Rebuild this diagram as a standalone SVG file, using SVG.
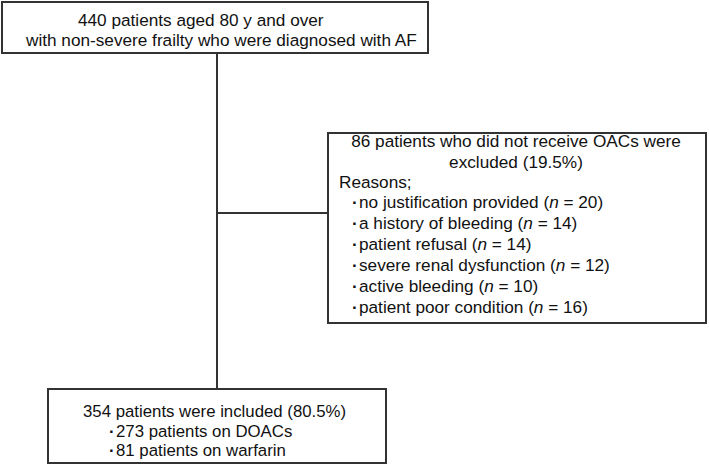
<svg xmlns="http://www.w3.org/2000/svg" width="709" height="465" viewBox="0 0 709 465">
<style>
.box{fill:#fff;stroke:#333;stroke-width:2}
.ln{stroke:#333;stroke-width:2;fill:none}
text{font-family:"Liberation Sans",Arial,sans-serif;font-size:17.2px;fill:#111}
.s{font-size:16.8px}
.i{font-style:italic}
.b{font-weight:bold}
</style>
<rect width="709" height="465" fill="#fff"/>
<g id="connectors">
<line class="ln" x1="217" y1="53" x2="217" y2="389"/>
<line class="ln" x1="217" y1="213" x2="328" y2="213"/>
</g>
<g id="top">
<rect class="box" x="2" y="2" width="426" height="51"/>
<text x="78" y="26">440 patients aged 80 y and over</text>
<text x="26" y="46">with non-severe frailty who were diagnosed with AF</text>
</g>
<g id="excluded">
<rect class="box" x="328" y="133" width="378" height="190"/>
<text x="516" y="147" text-anchor="middle">86 patients who did not receive OACs were</text>
<text x="516" y="168" text-anchor="middle">excluded (19.5%)</text>
<text x="339" y="188">Reasons;</text>
<text class="b" x="352" y="208">·</text><text x="359" y="208">no justification provided (<tspan class="i">n</tspan> = 20)</text>
<text class="b" x="352" y="229">·</text><text x="359" y="229">a history of bleeding (<tspan class="i">n</tspan> = 14)</text>
<text class="b" x="352" y="250">·</text><text x="359" y="250">patient refusal (<tspan class="i">n</tspan> = 14)</text>
<text class="b" x="352" y="271">·</text><text x="359" y="271">severe renal dysfunction  (<tspan class="i">n</tspan> = 12)</text>
<text class="b" x="352" y="292">·</text><text x="359" y="292">active bleeding  (<tspan class="i">n</tspan> = 10)</text>
<text class="b" x="352" y="313">·</text><text x="359" y="313">patient poor condition (<tspan class="i">n</tspan> = 16)</text>
</g>
<g id="included">
<rect class="box" x="48" y="389" width="338" height="74"/>
<text class="s" x="83" y="417">354 patients were included (80.5%)</text>
<text class="s b" x="109" y="436.5">·</text><text class="s" x="116" y="436.5">273 patients on DOACs</text>
<text class="s b" x="109" y="456">·</text><text class="s" x="116" y="456">81 patients on warfarin</text>
</g>
</svg>
